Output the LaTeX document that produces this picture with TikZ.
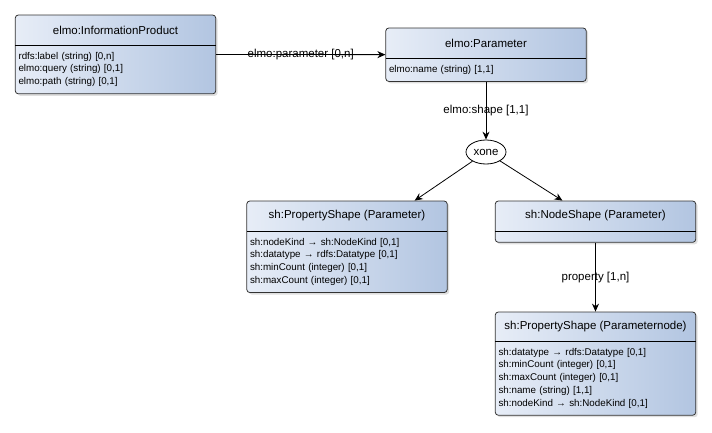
\documentclass[tikz,border=0pt]{standalone}
\usepackage{fontspec}
\setmainfont{Liberation Sans}
\usetikzlibrary{arrows.meta,positioning,shapes.geometric,shadows,fit,backgrounds}

\definecolor{boxleft}{RGB}{231,237,247}
\definecolor{boxright}{RGB}{178,197,225}

\begin{document}
\begin{tikzpicture}[
    x=1pt, y=-1pt,
    every node/.style={font=\fontsize{11.5}{13}\selectfont},
    head/.style={
        anchor=north,
        minimum width=200pt,
        minimum height=29.5pt,
        inner sep=0pt
    },
    attrs/.style={
        text width=194pt,
        align=left,
        inner xsep=3pt,
        inner ysep=7pt,
        font=\fontsize{9.8}{12.7}\selectfont
    },
    classbox/.style={
        draw=black!80,
        line width=0.8pt,
        rounded corners=3pt,
        inner sep=0pt,
        left color=boxleft,
        right color=boxright,
        drop shadow={shadow xshift=2pt, shadow yshift=-2pt, opacity=.25}
    },
    choice/.style={
        draw,
        ellipse,
        line width=0.8pt,
        minimum width=40pt,
        minimum height=24pt,
        inner sep=0pt,
        font=\fontsize{11.5}{13}\selectfont
    },
    link/.style={-{Stealth[length=8pt,width=7pt]}, line width=0.8pt}
]
\useasboundingbox (0,0) rectangle (712,432);

% Classes: title row + attribute rows
\node[head] (ip) at (115.5,15) {elmo:InformationProduct};
\node[attrs, below=0pt of ip] (ip-attr) {rdfs:label (string) [0,n]\\
elmo:query (string) [0,1]\\
elmo:path (string) [0,1]};

\node[head] (param) at (486,28) {elmo:Parameter};
\node[attrs, below=0pt of param] (param-attr) {elmo:name (string) [1,1]};

\node[head] (pshape) at (347,201) {sh:PropertyShape (Parameter)};
\node[attrs, below=0pt of pshape] (pshape-attr) {sh:nodeKind → sh:NodeKind [0,1]\\
sh:datatype → rdfs:Datatype [0,1]\\
sh:minCount (integer) [0,1]\\
sh:maxCount (integer) [0,1]};

\node[head] (nshape) at (595.5,201) {sh:NodeShape (Parameter)};
\node[below=0pt of nshape, minimum width=200pt, minimum height=11pt, inner sep=0pt] (nshape-attr) {};

\node[head, minimum height=28.5pt] (pnode) at (595.5,312) {sh:PropertyShape (Parameternode)};
\node[attrs, below=0pt of pnode] (pnode-attr) {sh:datatype → rdfs:Datatype [0,1]\\
sh:minCount (integer) [0,1]\\
sh:maxCount (integer) [0,1]\\
sh:name (string) [1,1]\\
sh:nodeKind → sh:NodeKind [0,1]};

% xone choice
\node[choice] (xone) at (486,152) {xone};

% Frames behind the text
\begin{scope}[on background layer]
\foreach \c in {ip,param,pshape,nshape,pnode}
    \node[classbox, fit=(\c)(\c-attr)] (\c-box) {};
\end{scope}
\foreach \c in {ip,param,pshape,nshape,pnode}
    \draw[line width=0.8pt] (\c.south west) -- (\c.south east);

% Connectors
\draw[link] (ip-box) -- node {elmo:parameter [0,n]} (param-box);
\draw[link] (param-box) -- node {elmo:shape [1,1]} (xone);
\draw[link] (xone) -- (pshape-box);
\draw[link] (xone) -- (nshape-box);
\draw[link] (nshape-box) -- node {property [1,n]} (pnode-box);

\end{tikzpicture}
\end{document}
